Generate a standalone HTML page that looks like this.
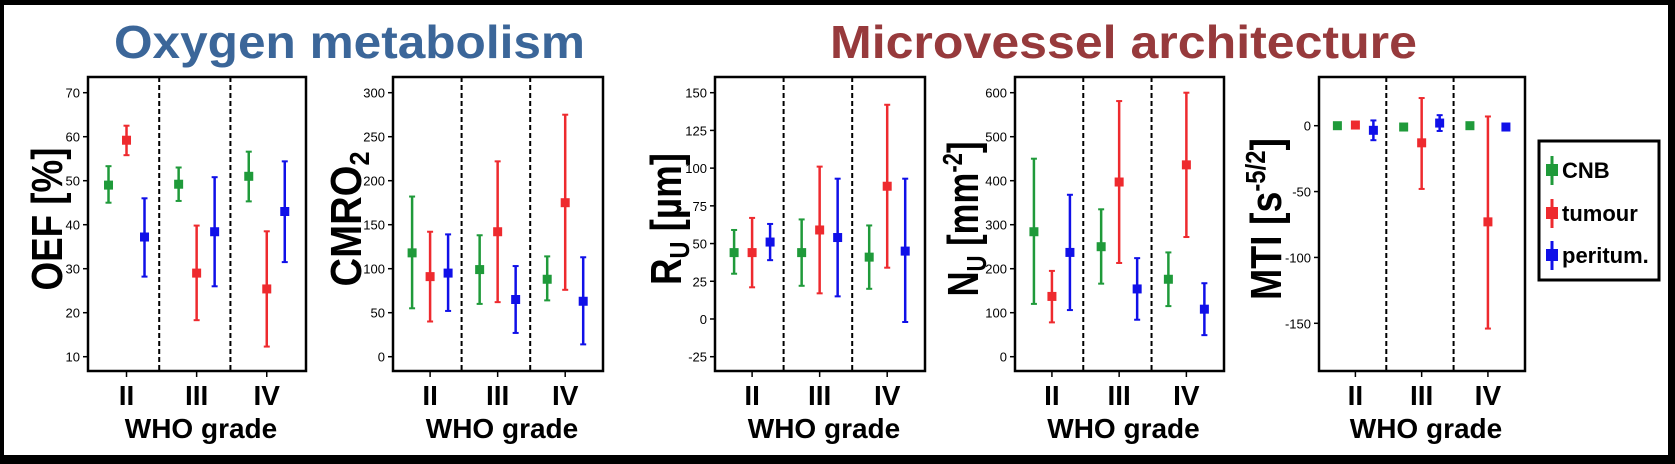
<!DOCTYPE html>
<html><head><meta charset="utf-8"><style>
html,body{margin:0;padding:0;background:#fff}
svg{display:block}
text{font-family:"Liberation Sans",Arial,sans-serif}
</style></head><body>
<svg id="fig" width="1675" height="464" viewBox="0 0 1675 464" xmlns="http://www.w3.org/2000/svg">
<rect x="0" y="0" width="1675" height="464" fill="#000"/>
<rect x="4" y="5" width="1664" height="450" fill="#fff"/>
<text x="114" y="58" font-size="46" font-weight="bold" fill="#3b6699" textLength="471" lengthAdjust="spacingAndGlyphs">Oxygen metabolism</text>
<text x="830" y="58" font-size="46" font-weight="bold" fill="#973a3c" textLength="587" lengthAdjust="spacingAndGlyphs">Microvessel architecture</text>
<g id="panels"></g>
<g>
<rect x="1539" y="141" width="120" height="139" fill="#fff" stroke="#000" stroke-width="3"/>
<g><line x1="1552" y1="156" x2="1552" y2="185" stroke="#1f9a3a" stroke-width="3"/><rect x="1546" y="164" width="12" height="12" fill="#1f9a3a"/><text x="1562" y="178" font-size="22" font-weight="bold">CNB</text></g>
<g><line x1="1552" y1="199" x2="1552" y2="228" stroke="#ee2a2e" stroke-width="3"/><rect x="1546" y="207" width="12" height="12" fill="#ee2a2e"/><text x="1562" y="221" font-size="22" font-weight="bold">tumour</text></g>
<g><line x1="1552" y1="241" x2="1552" y2="270" stroke="#1010e8" stroke-width="3"/><rect x="1546" y="249" width="12" height="12" fill="#1010e8"/><text x="1562" y="263" font-size="22" font-weight="bold">peritum.</text></g>
</g>
</svg>
<script>
// Data: [mean, low, high] per grade (II, III, IV)
const categories = ["II", "III", "IV"];
const seriesNames = ["CNB", "tumour", "peritum."];
const oefCNB = [[49,45,53.3],[49.2,45.4,53],[51,45.3,56.6]];
const oefTumour = [[59.2,55.8,62.5],[29,18.3,39.8],[25.4,12.3,38.5]];
const oefPeri = [[37.2,28.2,46],[38.4,26,50.8],[43,31.5,54.4]];
const oefTicks = [10,20,30,40,50,60,70];
const cmroCNB = [[118,55,182],[99,60,138],[88,64,114]];
const cmroTumour = [[91,40,142],[142,62,222],[175,76,275]];
const cmroPeri = [[95,52,139],[65,27,103],[63,14,113]];
const cmroTicks = [0,50,100,150,200,250,300];
const ruCNB = [[44,30,59],[44,22,66],[41,20,62]];
const ruTumour = [[44,21,67],[59,17,101],[88,34,142]];
const ruPeri = [[51,39,63],[54,15,93],[45,-2,93]];
const ruTicks = [-25,0,25,50,75,100,125,150];
const nuCNB = [[284,120,450],[250,166,335],[176,115,237]];
const nuTumour = [[137,78,195],[397,213,581],[436,272,600]];
const nuPeri = [[237,106,368],[154,84,224],[108,49,167]];
const nuTicks = [0,100,200,300,400,500,600];
const mtiCNB = [[0,-0.5,0.5],[-1,-3,1],[0,-0.5,0.5]];
const mtiTumour = [[0.5,-0.5,1.5],[-13,-48,21],[-73,-154,7]];
const mtiPeri = [[-3.5,-11,4],[2,-4,8],[-1,-2,0.5]];
const mtiTicks = [-150,-100,-50,0];

const colors = ["#1f9a3a","#ee2a2e","#1010e8"];
const NS = "http://www.w3.org/2000/svg";
const root = document.getElementById("panels");
function mk(tag, attrs, parent){const e=document.createElementNS(NS,tag);for(const k in attrs)e.setAttribute(k,attrs[k]);parent.appendChild(e);return e;}

const panels = [
 {id:"oef", x0:88, x1:306, v0:70, p0:92.7, v1:10, p1:356.7, ticks:oefTicks, series:[oefCNB,oefTumour,oefPeri], lx:47, label:"OEF [%]", len:143},
 {id:"cmro2", x0:393, x1:603, v0:300, p0:92.7, v1:0, p1:356.7, ticks:cmroTicks, series:[cmroCNB,cmroTumour,cmroPeri], lx:346, label:"CMRO", sub:"2", len:135},
 {id:"ru", x0:715, x1:925, v0:150, p0:92.7, v1:-25, p1:356.7, ticks:ruTicks, series:[ruCNB,ruTumour,ruPeri], lx:666, label:"R", sub:"U", rest:" [µm]", len:132},
 {id:"nu", x0:1015, x1:1224, v0:600, p0:92.7, v1:0, p1:356.7, ticks:nuTicks, series:[nuCNB,nuTumour,nuPeri], lx:963, label:"N", sub:"U", rest:" [mm", sup:"-2", rest2:"]", len:155},
 {id:"mti", x0:1319, x1:1525, v0:0, p0:125.7, v1:-150, p1:323.3, ticks:mtiTicks, series:[mtiCNB,mtiTumour,mtiPeri], lx:1266, label:"MTI [s", sup:"-5/2", rest2:"]", len:162}
];
const plotTop=77, plotBot=371;
panels.forEach(P=>{
  const g = mk("g",{},root);
  
  
  const y = v => P.p0 + (v-P.v0)*(P.p1-P.p0)/(P.v1-P.v0);
  const w = (P.x1-P.x0)/3;
  const cx = i => P.x0 + w*(0.53 + i*0.965);
  const box = mk("rect",{x:P.x0,y:plotTop,width:P.x1-P.x0,height:plotBot-plotTop,fill:"#fff",stroke:"#000","stroke-width":2.5},g);
  
  
  for(let k=1;k<3;k++){
    const dl = mk("line",{x1:P.x0+w*k*0.98,x2:P.x0+w*k*0.98,y1:plotTop,y2:plotBot,stroke:"#000","stroke-width":2,"stroke-dasharray":"5,3"},g);
    
    
  }
  P.ticks.forEach(t=>{
    mk("line",{x1:P.x0-5,x2:P.x0,y1:y(t),y2:y(t),stroke:"#000","stroke-width":1.5},g);
    const tl = mk("text",{x:P.x0-8,y:y(t)+5,"font-size":13,"text-anchor":"end"},g);
    tl.textContent = t;
    
    
  });
  categories.forEach((c,i)=>{
    mk("line",{x1:cx(i),x2:cx(i),y1:plotBot,y2:plotBot+6,stroke:"#000","stroke-width":1.5},g);
    const xl = mk("text",{x:cx(i),y:405,"font-size":28,"font-weight":"bold","text-anchor":"middle"},g);
    xl.textContent = c;
    
    
  });
  const xt = mk("text",{x:(P.x0+P.x1)/2+4,y:438,"font-size":28,"font-weight":"bold","text-anchor":"middle"},g);
  xt.textContent = "WHO grade";
  
  
  const yt = mk("text",{x:0,y:0,"font-size":44,"font-weight":"bold","text-anchor":"middle",transform:`translate(${P.lx+15},${(plotTop+plotBot)/2-5}) rotate(-90)`,textLength:P.len,lengthAdjust:"spacingAndGlyphs"},g);
  
  
  let html = P.label;
  if(P.sub) html += `<tspan font-size="28" dy="8">${P.sub}</tspan>`;
  if(P.rest) html += `<tspan dy="${P.sub?-8:0}">${P.rest}</tspan>`;
  if(P.sup) html += `<tspan font-size="28" dy="-16">${P.sup}</tspan>`;
  if(P.rest2) html += `<tspan dy="${P.sup?16:0}">${P.rest2}</tspan>`;
  yt.innerHTML = html;
  P.series.forEach((s,si)=>{
    s.forEach((d,i)=>{
      const x = cx(i) + (si-1)*18;
      const eg = mk("g",{},g);
      
      
      const col = colors[si];
      mk("line",{x1:x,x2:x,y1:y(d[1]),y2:y(d[2]),stroke:col,"stroke-width":2.5},eg);
      mk("line",{x1:x-3,x2:x+3,y1:y(d[1]),y2:y(d[1]),stroke:col,"stroke-width":2},eg);
      mk("line",{x1:x-3,x2:x+3,y1:y(d[2]),y2:y(d[2]),stroke:col,"stroke-width":2},eg);
      mk("rect",{x:x-4.5,y:y(d[0])-4.5,width:9,height:9,fill:col},eg);
    });
  });
});
</script>
</body></html>
